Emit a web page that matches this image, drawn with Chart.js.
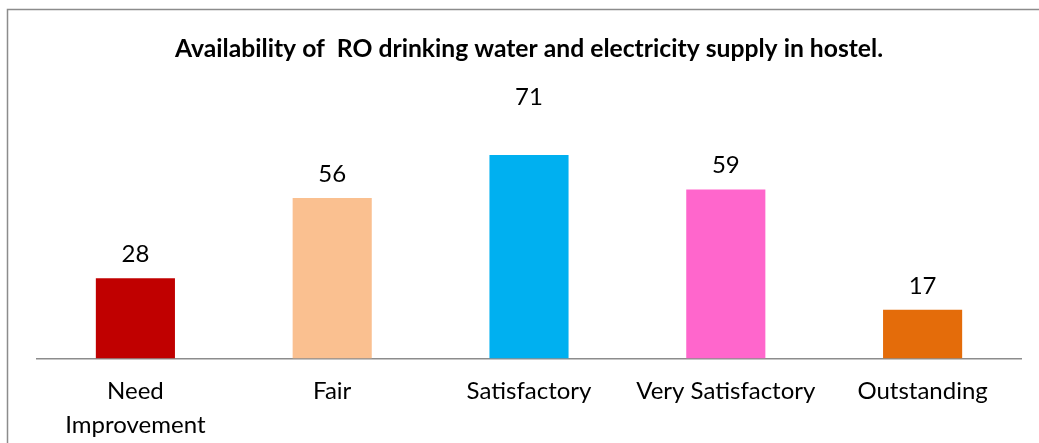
<!DOCTYPE html>
<html><head><meta charset="utf-8">
<script src="https://cdn.jsdelivr.net/npm/chart.js@4.4.1/dist/chart.umd.min.js"></script>
<style>html,body{margin:0;padding:0;background:#fff}#wrap{width:1039px;height:443px;position:relative}</style>
</head><body><div id="wrap"><canvas id="c"></canvas></div>
<script>
const categories = [['Need', 'Improvement'], 'Fair', 'Satisfactory', 'Very Satisfactory', 'Outstanding'];
const values = [28, 56, 71, 59, 17];
const barColors = ['#C00000', '#FAC090', '#00B0F0', '#FF66CC', '#E46C0A'];
const chartTitle = 'Availability of  RO drinking water and electricity supply in hostel.';

const FONT = 'Lato, "Open Sans", sans-serif';

const framePlugin = {
  id: 'frame',
  beforeDraw(chart) {
    const ctx = chart.ctx;
    ctx.save();
    ctx.fillStyle = '#ffffff';
    ctx.fillRect(0, 0, chart.width, chart.height);
    ctx.strokeStyle = '#8c8c8c';
    ctx.lineWidth = 1.5;
    ctx.strokeRect(7.5, 9.5, chart.width + 50, chart.height + 50);
    ctx.restore();
  }
};

const valueLabelPlugin = {
  id: 'valueLabels',
  afterDatasetsDraw(chart, args, opts) {
    const ctx = chart.ctx;
    const meta = chart.getDatasetMeta(0);
    ctx.save();
    ctx.font = opts.size + 'px ' + FONT;
    ctx.fillStyle = opts.color;
    ctx.textAlign = 'center';
    ctx.textBaseline = 'alphabetic';
    meta.data.forEach((bar, i) => {
      const lift = opts.gap + ((opts.extraLift && opts.extraLift[i]) || 0);
      ctx.fillText(String(chart.data.datasets[0].data[i]), bar.x, bar.y - lift);
    });
    ctx.restore();
  }
};

new Chart(document.getElementById('c'), {
  type: 'bar',
  data: {
    labels: categories,
    datasets: [{
      data: values,
      backgroundColor: barColors,
      borderWidth: 0,
      barPercentage: 0.402,
      categoryPercentage: 1.0
    }]
  },
  options: {
    responsive: true,
    maintainAspectRatio: false,
    animation: false,
    devicePixelRatio: 1,
    layout: { padding: { left: 37, right: 18, top: 0, bottom: -15.5 } },
    plugins: {
      legend: { display: false },
      tooltip: { enabled: false },
      title: {
        display: true,
        text: chartTitle,
        color: '#000000',
        font: { family: FONT, size: 24.7, weight: 'bold', lineHeight: 1.2 },
        padding: { top: 34.6, bottom: 65.1 }
      },
      valueLabels: { size: 24, color: '#000000', gap: 16, extraLift: { 2: 34 } }
    },
    scales: {
      x: {
        grid: { display: false, drawTicks: false },
        border: { display: true, color: '#8c8c8c', width: 1.5 },
        ticks: {
          color: '#000000',
          padding: 16,
          maxRotation: 0,
          autoSkip: false,
          font: { family: FONT, size: 24, lineHeight: 1.4167 }
        }
      },
      y: {
        display: false,
        min: 0,
        max: 80,
        beginAtZero: true
      }
    }
  },
  plugins: [framePlugin, valueLabelPlugin]
});
</script>
</body></html>
